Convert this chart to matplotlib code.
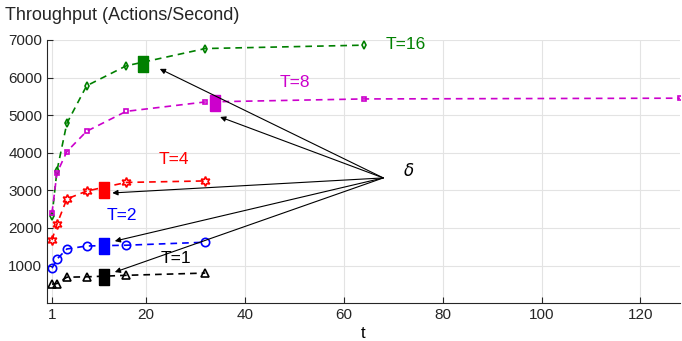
import matplotlib
matplotlib.use("Agg")
import matplotlib.pyplot as plt

plt.rcParams['font.family'] = ['Liberation Sans', 'DejaVu Sans']

t_vals = [1, 2, 4, 8, 16, 32, 64, 128]

thr_T16 = [2320, 3520, 4780, 5780, 6310, 6770, 6860]
thr_T8 = [2400, 3460, 4030, 4570, 5100, 5350, 5430, 5450]
thr_T4 = [1680, 2100, 2770, 2980, 3210, 3250]
thr_T2 = [930, 1170, 1440, 1520, 1540, 1620]
thr_T1 = [506, 520, 690, 700, 740, 800]

delta_x = [19.4, 34.0, 11.5, 11.5, 11.5]
delta_y = [6360, 5330, 3000, 1510, 690]
arrow_tip_x = [22.8, 35.0, 13.2, 13.7, 13.7]
arrow_tip_y = [6230, 4950, 2930, 1650, 825]
delta_src = (68, 3330)

labels = ["T=16", "T=8", "T=4", "T=2", "T=1"]
colors = ["#008000", "#CC00CC", "#FF0000", "#0000FF", "#000000"]

fig = plt.figure(figsize=(6.82, 3.41), dpi=100)
ax = fig.add_axes([0.069, 0.111, 0.928, 0.772])

star6 = (6, 1, 0)
series = [
    (thr_T16, 'd', 4, colors[0]),
    (thr_T8, 's', 3, colors[1]),
    (thr_T4, star6, 7, colors[2]),
    (thr_T2, 'o', 6, colors[3]),
    (thr_T1, '^', 6, colors[4]),
]
for vals, mk, ms, c in series:
    ax.plot(t_vals[:len(vals)], vals, linestyle='--', color=c, lw=1.2,
            marker=mk, markersize=ms, markerfacecolor='none',
            markeredgecolor=c, markeredgewidth=1.2, dashes=(4, 3))

rect = [(-0.62, -1), (0.62, -1), (0.62, 1), (-0.62, 1), (-0.62, -1)]
for x, y, c in zip(delta_x, delta_y, colors):
    ax.plot([x], [y], marker=rect, markersize=12, color=c, linestyle='none')

for tx, ty in zip(arrow_tip_x, arrow_tip_y):
    ax.annotate("", xy=(tx, ty), xytext=delta_src,
                arrowprops=dict(arrowstyle='-|>', color='black', lw=0.8,
                                mutation_scale=8, shrinkA=0, shrinkB=0))

ax.text(72, 3490, r"$\delta$", fontsize=12, va='center', ha='left',
        family='DejaVu Serif')

label_pos = [(68.5, 6870), (47, 5880), (22.5, 3820), (12, 2330), (23, 1200)]
for (lx, ly), lab, c in zip(label_pos, labels, colors):
    ax.text(lx, ly, lab, color=c, fontsize=12.5, ha='left', va='center')

ax.set_xlim(0, 128)
ax.set_ylim(0, 7000)
ax.set_xticks([1, 20, 40, 60, 80, 100, 120])
ax.set_yticks([1000, 2000, 3000, 4000, 5000, 6000, 7000])
ax.grid(True, color='#e3e3e3', lw=0.8)
ax.set_axisbelow(True)
for s in ['top', 'right']:
    ax.spines[s].set_visible(False)
for s in ['left', 'bottom']:
    ax.spines[s].set_color('#262626')
ax.tick_params(direction='in', labelsize=11, colors='#262626', length=4)
ax.set_xlabel("t", fontsize=12, labelpad=3)
fig.text(0.008, 0.955, "Throughput (Actions/Second)", fontsize=13,
         ha='left', va='center', color='#262626')

fig.savefig("out.png", dpi=100)
